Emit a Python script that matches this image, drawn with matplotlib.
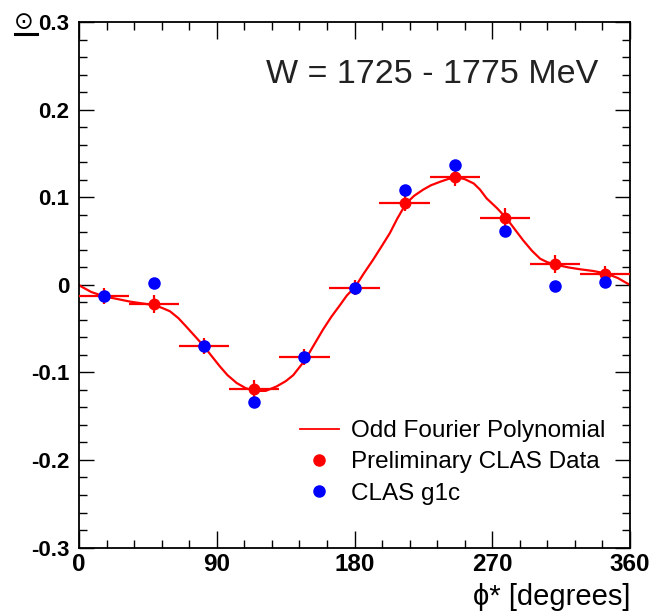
import matplotlib
matplotlib.use("Agg")
import matplotlib.pyplot as plt
from matplotlib.lines import Line2D
from matplotlib.ticker import MultipleLocator

plt.rcParams["font.family"] = ["Liberation Sans", "DejaVu Sans"]

# bin centres (11 bins over 0-360 deg) and half widths
phi_bins = [16.4, 49.1, 81.8, 114.5, 147.3, 180.0, 212.7, 245.5, 278.2, 310.9, 343.6]
phi_halfwidth = [16.4] * 11

# Preliminary CLAS data
clas_prelim = [-0.013, -0.022, -0.070, -0.119, -0.082, -0.003, 0.094, 0.123, 0.077, 0.024, 0.013]
clas_prelim_err = [0.009, 0.010, 0.009, 0.010, 0.009, 0.009, 0.010, 0.010, 0.011, 0.010, 0.009]

# CLAS g1c
clas_g1c = [-0.013, 0.002, -0.070, -0.134, -0.082, -0.003, 0.108, 0.137, 0.062, -0.001, 0.003]

# odd Fourier polynomial fit
fit_phi = [0, 1.7, 8, 16.3, 25, 33.3, 41, 49, 54, 59.4, 65, 70.3, 76, 81.6, 87, 92, 97,
           103, 109, 115, 122, 129, 135, 140, 147.6, 153, 159.4, 165, 170.5, 175, 180.5,
           186, 192.2, 198, 203, 208, 213.6, 219, 224.9, 230, 236, 241, 246.5, 252,
           257.9, 262, 266.3, 273, 279.4, 285, 290.2, 296, 301.3, 306, 312, 320, 327.2,
           336, 344.7, 352, 360]
fit_val = [0.0, -0.002, -0.008, -0.013, -0.016, -0.019, -0.021, -0.023, -0.026, -0.030,
           -0.038, -0.048, -0.059, -0.070, -0.082, -0.093, -0.103, -0.112, -0.118,
           -0.121, -0.121, -0.116, -0.110, -0.103, -0.086, -0.070, -0.051, -0.036,
           -0.023, -0.012, -0.002, 0.013, 0.029, 0.045, 0.059, 0.076, 0.093, 0.102,
           0.109, 0.114, 0.118, 0.121, 0.123, 0.121, 0.116, 0.109, 0.099, 0.088, 0.076,
           0.063, 0.051, 0.039, 0.030, 0.026, 0.023, 0.020, 0.018, 0.016, 0.013, 0.008, 0.0]

fig = plt.figure(figsize=(6.59, 6.14), dpi=100)
ax = fig.add_axes([0.1199, 0.1083, 0.956 - 0.1199, 0.9634 - 0.1083])

ax.plot(fit_phi, fit_val, color="red", lw=1.6, zorder=2)
ax.errorbar(phi_bins, clas_prelim, xerr=phi_halfwidth, yerr=clas_prelim_err,
            fmt="o", color="red", ms=7.5, elinewidth=1.6, capsize=0, zorder=3)
ax.plot(phi_bins, clas_g1c, "o", color="blue", ms=8, zorder=4)

ax.set_xlim(0, 360)
ax.set_ylim(-0.3, 0.3)
ax.xaxis.set_minor_locator(MultipleLocator(18))
ax.yaxis.set_minor_locator(MultipleLocator(0.02))
ax.set_xticks([0, 90, 180, 270, 360])
ax.set_xticklabels(["0", "90", "180", "270", "360"])
ax.set_yticks([-0.3, -0.2, -0.1, 0, 0.1, 0.2, 0.3])
ax.set_yticklabels(["-0.3", "-0.2", "-0.1", "0", "0.1", "0.2", "0.3"])

ax.tick_params(which="both", direction="in", top=True, right=True, width=1.0)
ax.tick_params(axis="x", which="major", length=12, pad=4)
ax.tick_params(axis="x", which="minor", length=6)
ax.tick_params(axis="y", which="major", length=11, pad=7)
ax.tick_params(axis="y", which="minor", length=5.5)
for lab in ax.get_xticklabels():
    lab.set_fontweight("bold")
    lab.set_fontsize(17.5)
for lab in ax.get_yticklabels():
    lab.set_fontweight("bold")
    lab.set_fontsize(16)
for sp in ax.spines.values():
    sp.set_linewidth(1.3)

ax.text(0.942, 0.9, "W = 1725 - 1775 MeV", transform=ax.transAxes,
        ha="right", va="center", fontsize=24.5, color="#222222")

ax.set_xlabel("\u03d5* [degrees]", fontsize=21, loc="right", labelpad=5)

fig.text(24 / 659, 1 - 22 / 614, "\u2299", fontsize=17, ha="center", va="center",
         family=["DejaVu Sans"])
fig.add_artist(Line2D([15 / 659, 37 / 659], [1 - 34 / 614, 1 - 34 / 614],
                      color="black", lw=2.2))

handles = [
    Line2D([], [], color="red", lw=1.3),
    Line2D([], [], color="red", marker="o", ls="none", ms=8),
    Line2D([], [], color="blue", marker="o", ls="none", ms=8),
]
labels = ["Odd Fourier Polynomial", "Preliminary CLAS Data", "CLAS g1c"]
ax.legend(handles, labels, loc="lower right", bbox_to_anchor=(0.995, 0.04),
          frameon=False, fontsize=17.5, handlelength=1.6, handletextpad=0.5,
          labelspacing=0.38)

fig.savefig("out.png", dpi=100)
